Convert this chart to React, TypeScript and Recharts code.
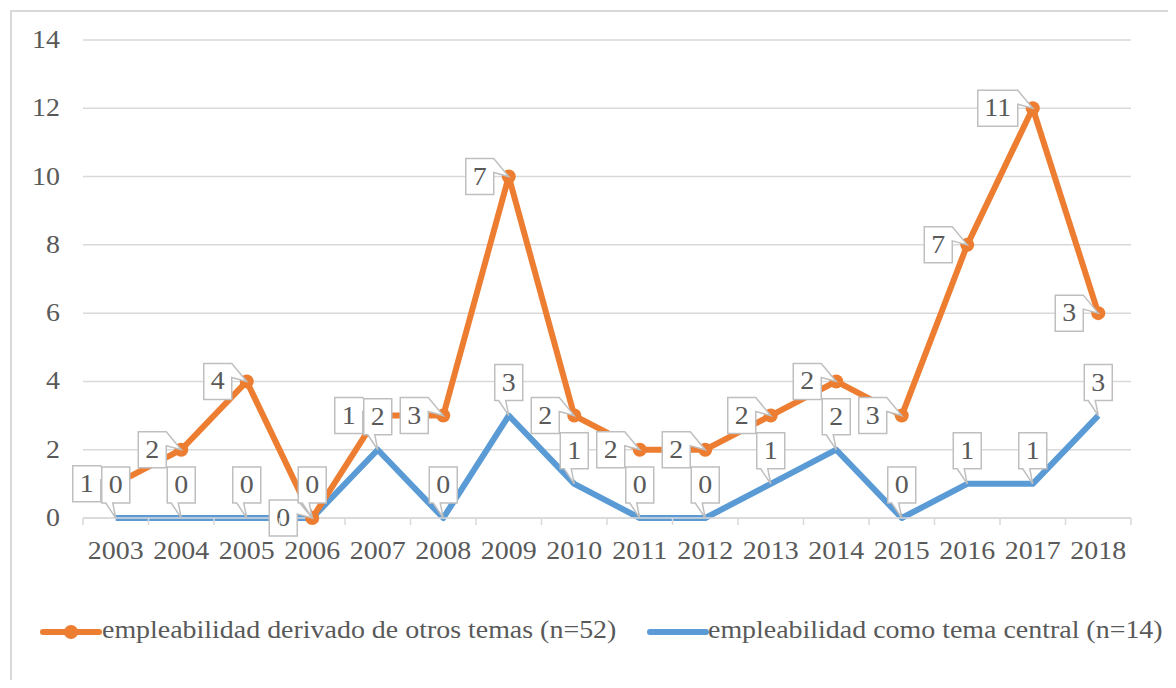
import { ComposedChart, Area, Line, XAxis, YAxis, CartesianGrid } from "recharts";

const years = ["2003", "2004", "2005", "2006", "2007", "2008", "2009", "2010", "2011", "2012", "2013", "2014", "2015", "2016", "2017", "2018"];
// propio valor de cada serie (la naranja va apilada sobre la azul)
const derivado = [1, 2, 4, 0, 1, 3, 7, 2, 2, 2, 2, 2, 3, 7, 11, 3];
const central = [0, 0, 0, 0, 2, 0, 3, 1, 0, 0, 1, 2, 0, 1, 1, 3];
const yTicks = [0, 2, 4, 6, 8, 10, 12, 14];

const data = years.map((year, i) => ({ year, derivado: derivado[i], central: central[i] }));

const ORANGE = "#ED7D31";
const BLUE = "#5B9BD5";
const GRID = "#d9d9d9";
const TEXT = "#595959";
const FONT = "Liberation Serif, Times New Roman, serif";
const SX = 1.14; // el original está algo estirado en horizontal
const HALF_BAND = (1131 - 83) / 16 / 2;

const Txt = ({ x, y, anchor = "middle", size = 24.5, children }: any) => (
  <text
    transform={`translate(${x},${y}) scale(${SX},1)`}
    textAnchor={anchor}
    fontFamily={FONT}
    fontSize={size}
    fill={TEXT}
  >
    {children}
  </text>
);

const XTick = ({ x, y, payload, index }: any) => (
  <g>
    <line x1={x - HALF_BAND} x2={x - HALF_BAND} y1={y} y2={y + 7} stroke={GRID} strokeWidth={1.5} />
    {index === years.length - 1 && (
      <line x1={x + HALF_BAND} x2={x + HALF_BAND} y1={y} y2={y + 7} stroke={GRID} strokeWidth={1.5} />
    )}
    <Txt x={x} y={y + 41}>{payload.value}</Txt>
  </g>
);

const YTick = ({ x, y, payload }: any) => <Txt x={x - 23} y={y + 8} anchor="end">{payload.value}</Txt>;

// callout a la izquierda del punto (serie naranja)
const OrangeDot = ({ cx, cy, index, payload }: any) => {
  if (cx == null || cy == null) return <g key={`o${index}`} />;
  const label = String(payload.derivado);
  const w = label.length > 1 ? 40 : 28;
  const right = cx - 15;
  const left = right - w;
  const top = cy - 18;
  const bottom = cy + 18;
  return (
    <g key={`o${index}`}>
      <circle cx={cx} cy={cy} r={7} fill={ORANGE} />
      <path
        d={`M${left},${top} H${right} L${cx},${cy} L${right},${top + 14} V${bottom} H${left} Z`}
        fill="#fff"
        stroke="#bfbfbf"
        strokeWidth={1.5}
      />
      <Txt x={(left + right) / 2} y={cy + 8}>{label}</Txt>
    </g>
  );
};

// callout encima del punto (serie azul)
const BlueCallout = ({ cx, cy, index, payload }: any) => {
  if (cx == null || cy == null) return <g key={`b${index}`} />;
  const label = String(payload.central);
  const left = cx - 14;
  const right = cx + 14;
  const bottom = cy - 15;
  const top = bottom - 36;
  return (
    <g key={`b${index}`}>
      <path
        d={`M${left},${top} H${right} V${bottom} H${left + 11} L${cx},${cy} L${left + 4},${bottom} H${left} Z`}
        fill="#fff"
        stroke="#bfbfbf"
        strokeWidth={1.5}
      />
      <Txt x={cx} y={top + 26}>{label}</Txt>
    </g>
  );
};

export default function App() {
  return (
    <div style={{ position: "relative", width: 1176, height: 688, margin: -8, overflow: "hidden", background: "#fff" }}>
      <div style={{ position: "absolute", left: 10, top: 10, width: 1200, height: 720, border: `2px solid ${GRID}` }} />
      <div style={{ position: "absolute", left: 0, top: 0 }}>
        <ComposedChart width={1176} height={688} data={data} margin={{ top: 40, right: 45, bottom: 130, left: 0 }}>
          <CartesianGrid vertical={false} stroke={GRID} strokeWidth={1.5} />
          <XAxis
            dataKey="year"
            interval={0}
            height={40}
            padding={{ left: HALF_BAND, right: HALF_BAND }}
            tickLine={false}
            tickSize={0}
            tickMargin={0}
            axisLine={{ stroke: GRID, strokeWidth: 1.5 }}
            tick={<XTick />}
          />
          <YAxis
            width={83}
            domain={[0, 14]}
            ticks={yTicks}
            axisLine={false}
            tickLine={false}
            tickSize={0}
            tickMargin={0}
            tick={<YTick />}
          />
          <Area
            type="linear"
            dataKey="central"
            stackId="s"
            stroke={BLUE}
            strokeWidth={6}
            strokeLinejoin="round"
            fill="none"
            dot={false}
            activeDot={false}
            isAnimationActive={false}
          />
          <Area
            type="linear"
            dataKey="derivado"
            stackId="s"
            stroke={ORANGE}
            strokeWidth={6}
            strokeLinejoin="round"
            fill="none"
            dot={OrangeDot}
            activeDot={false}
            isAnimationActive={false}
          />
          <Line
            type="linear"
            dataKey="central"
            stroke="none"
            dot={BlueCallout}
            activeDot={false}
            isAnimationActive={false}
          />
        </ComposedChart>
      </div>
      <svg width={1176} height={688} style={{ position: "absolute", left: 0, top: 0, pointerEvents: "none" }}>
        <line x1={43} x2={99} y1={632} y2={632} stroke={ORANGE} strokeWidth={6} strokeLinecap="round" />
        <circle cx={71} cy={632} r={7} fill={ORANGE} />
        <Txt x={102} y={638} anchor="start">empleabilidad derivado de otros temas (n=52)</Txt>
        <line x1={650} x2={706} y1={632} y2={632} stroke={BLUE} strokeWidth={6} strokeLinecap="round" />
        <Txt x={708} y={638} anchor="start">empleabilidad como tema central (n=14)</Txt>
      </svg>
    </div>
  );
}
